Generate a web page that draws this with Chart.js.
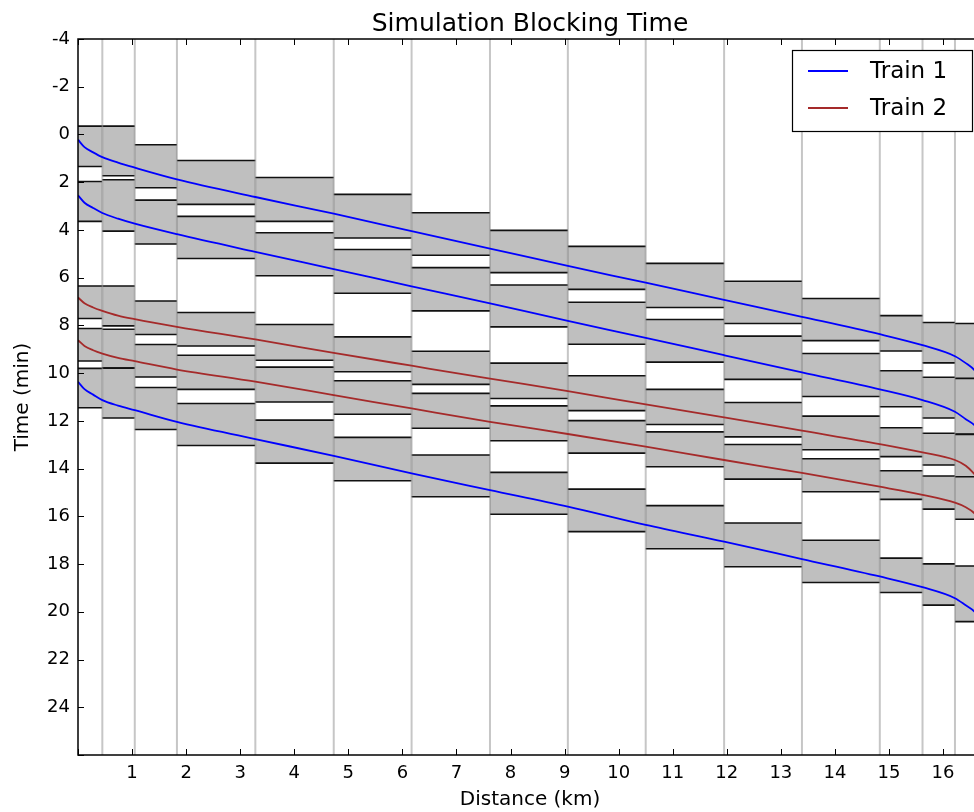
<!DOCTYPE html>
<html>
<head>
<meta charset="utf-8">
<title>Simulation Blocking Time</title>
<script src="https://cdn.jsdelivr.net/npm/chart.js@4.4.1/dist/chart.umd.min.js"></script>
<style>
  html, body { margin: 0; padding: 0; background: #fff; overflow: hidden; }
  #wrap { width: 974px; height: 812px; overflow: hidden; }
</style>
</head>
<body>
<div id="wrap">
  <canvas id="blockChart" width="992" height="812"></canvas>
</div>
<script>
// block section limits along the line (km)
const sectionKm = [0, 0.45, 1.05, 1.83, 3.28, 4.73, 6.17, 7.62, 9.06, 10.5, 11.95, 13.39, 14.83, 15.62, 16.22, 16.72];

// distance points of the running time curves (km)
const pathKm = [0, 0.12, 0.28, 0.45, 0.74, 1.05, 1.83, 3.28, 4.73, 6.17, 7.62, 9.06, 10.5, 11.95, 13.39, 14.83, 15.62, 16.22, 16.42, 16.58, 16.72];

// running times (min) for each run
const runATime = [0.22, 0.53, 0.75, 0.95, 1.18, 1.39, 1.88, 2.62, 3.32, 4.05, 4.78, 5.51, 6.21, 6.93, 7.64, 8.37, 8.83, 9.29, 9.58, 9.87, 10.3];
const runBTime = [2.55, 2.86, 3.08, 3.29, 3.53, 3.74, 4.18, 4.92, 5.64, 6.36, 7.08, 7.81, 8.52, 9.25, 9.97, 10.68, 11.13, 11.62, 11.93, 12.18, 12.62];
const runCTime = [6.83, 7.07, 7.25, 7.39, 7.59, 7.74, 8.06, 8.59, 9.15, 9.69, 10.23, 10.75, 11.31, 11.85, 12.41, 12.97, 13.32, 13.64, 13.88, 14.23, 14.62];
const runDTime = [8.62, 8.86, 9.04, 9.18, 9.36, 9.50, 9.85, 10.36, 10.92, 11.48, 12.04, 12.55, 13.08, 13.64, 14.18, 14.76, 15.10, 15.43, 15.62, 15.87, 16.25];
const runETime = [10.36, 10.67, 10.90, 11.13, 11.36, 11.55, 12.04, 12.76, 13.47, 14.20, 14.90, 15.59, 16.36, 17.06, 17.79, 18.52, 18.97, 19.43, 19.73, 19.99, 20.42];

// blocking time per section (min): start and end of occupation
const runABlockStart = [-0.35, -0.35, 0.43, 1.09, 1.80, 2.51, 3.28, 4.02, 4.69, 5.40, 6.15, 6.87, 7.59, 7.88, 7.92];
const runABlockEnd   = [1.34, 1.73, 2.23, 2.93, 3.64, 4.34, 5.06, 5.79, 6.49, 7.25, 7.92, 8.64, 9.07, 9.57, 10.25];
const runBBlockStart = [1.97, 1.90, 2.75, 3.43, 4.12, 4.82, 5.58, 6.31, 7.03, 7.75, 8.45, 9.18, 9.90, 10.17, 10.22];
const runBBlockEnd   = [3.64, 4.05, 4.59, 5.20, 5.92, 6.65, 7.39, 8.06, 8.79, 9.54, 10.26, 10.98, 11.41, 11.88, 12.55];
const runCBlockStart = [6.35, 6.35, 6.98, 7.46, 7.96, 8.48, 9.08, 9.58, 10.11, 10.68, 11.23, 11.80, 12.29, 12.52, 12.57];
const runCBlockEnd   = [7.71, 8.02, 8.38, 8.86, 9.46, 9.94, 10.47, 11.06, 11.57, 12.15, 12.67, 13.21, 13.50, 13.85, 14.35];
const runDBlockStart = [8.13, 8.16, 8.80, 9.25, 9.75, 10.32, 10.85, 11.37, 11.99, 12.46, 12.99, 13.59, 14.09, 14.31, 14.34];
const runDBlockEnd   = [9.49, 9.79, 10.16, 10.68, 11.21, 11.72, 12.31, 12.83, 13.35, 13.92, 14.44, 14.97, 15.29, 15.70, 16.12];
const runEBlockStart = [9.80, 9.79, 10.60, 11.27, 11.97, 12.69, 13.43, 14.16, 14.86, 15.55, 16.28, 17.00, 17.75, 17.99, 18.08];
const runEBlockEnd   = [11.45, 11.88, 12.36, 13.03, 13.77, 14.51, 15.18, 15.91, 16.64, 17.36, 18.11, 18.77, 19.19, 19.72, 20.41];

const trainColors = { "Train 1": "#0000ff", "Train 2": "#a52a2a" };

const runs = [
  { label: "Train 1", time: runATime, blockStart: runABlockStart, blockEnd: runABlockEnd },
  { label: "Train 1", time: runBTime, blockStart: runBBlockStart, blockEnd: runBBlockEnd },
  { label: "Train 2", time: runCTime, blockStart: runCBlockStart, blockEnd: runCBlockEnd },
  { label: "Train 2", time: runDTime, blockStart: runDBlockStart, blockEnd: runDBlockEnd },
  { label: "Train 1", time: runETime, blockStart: runEBlockStart, blockEnd: runEBlockEnd },
];

const FONT = "'DejaVu Sans', sans-serif";

// gray blocking boxes and the signal lines, under the curves
const blockPlugin = {
  id: "blocks",
  beforeDatasetsDraw(chart) {
    const { ctx, chartArea, scales: { x, y } } = chart;
    ctx.save();
    ctx.beginPath();
    ctx.rect(chartArea.left, chartArea.top, chartArea.width, chartArea.height);
    ctx.clip();

    runs.forEach(run => {
      run.blockStart.forEach((t0, i) => {
        const x0 = x.getPixelForValue(sectionKm[i]);
        const x1 = x.getPixelForValue(sectionKm[i + 1]);
        const y0 = y.getPixelForValue(t0);
        const y1 = y.getPixelForValue(run.blockEnd[i]);
        ctx.fillStyle = "#bfbfbf";
        ctx.fillRect(x0, y0, x1 - x0, y1 - y0);
        ctx.strokeStyle = "#111";
        ctx.lineWidth = 1.6;
        ctx.beginPath();
        ctx.moveTo(x0, y0); ctx.lineTo(x1, y0);
        ctx.moveTo(x0, y1); ctx.lineTo(x1, y1);
        ctx.stroke();
      });
    });

    ctx.strokeStyle = "rgba(128,128,128,0.45)";
    ctx.lineWidth = 2;
    sectionKm.slice(1, -1).forEach(km => {
      const px = x.getPixelForValue(km);
      ctx.beginPath();
      ctx.moveTo(px, chartArea.top);
      ctx.lineTo(px, chartArea.bottom);
      ctx.stroke();
    });
    ctx.restore();
  },
  afterDraw(chart) {
    const { ctx, chartArea, scales: { x, y } } = chart;
    const { left, right, top, bottom } = chartArea;
    ctx.save();

    // axes frame
    ctx.strokeStyle = "#000";
    ctx.lineWidth = 1.5;
    ctx.strokeRect(left, top, right - left, bottom - top);

    // ticks pointing inwards
    ctx.lineWidth = 1;
    x.ticks.forEach(t => {
      const px = Math.round(x.getPixelForValue(t.value)) + 0.5;
      ctx.beginPath();
      ctx.moveTo(px, bottom); ctx.lineTo(px, bottom - 6);
      ctx.moveTo(px, top); ctx.lineTo(px, top + 6);
      ctx.stroke();
    });
    y.ticks.forEach(t => {
      const py = Math.round(y.getPixelForValue(t.value)) + 0.5;
      ctx.beginPath();
      ctx.moveTo(left, py); ctx.lineTo(left + 6, py);
      ctx.moveTo(right, py); ctx.lineTo(right - 6, py);
      ctx.stroke();
    });

    // title
    ctx.fillStyle = "#000";
    ctx.font = "25px " + FONT;
    ctx.textAlign = "center";
    ctx.textBaseline = "alphabetic";
    ctx.fillText("Simulation Blocking Time", (left + right) / 2, 31);

    // legend
    const labels = [...new Set(runs.map(r => r.label))];
    const boxW = 180, boxH = 81;
    const bx = right - 10 - boxW, by = top + 11;
    ctx.fillStyle = "#fff";
    ctx.fillRect(bx, by, boxW, boxH);
    ctx.strokeStyle = "#000";
    ctx.lineWidth = 1.2;
    ctx.strokeRect(bx + 0.5, by + 0.5, boxW, boxH);
    ctx.font = "23px " + FONT;
    ctx.textAlign = "left";
    ctx.textBaseline = "middle";
    labels.forEach((label, i) => {
      const ly = by + 21 + i * 37;
      ctx.strokeStyle = trainColors[label];
      ctx.lineWidth = 1.8;
      ctx.beginPath();
      ctx.moveTo(bx + 16, ly); ctx.lineTo(bx + 56, ly);
      ctx.stroke();
      ctx.fillStyle = "#000";
      ctx.fillText(label, bx + 78, ly + 1);
    });
    ctx.restore();
  }
};

const datasets = runs.map(run => ({
  label: run.label,
  data: pathKm.map((km, i) => ({ x: km, y: run.time[i] })),
  borderColor: trainColors[run.label],
  borderWidth: 1.8,
  pointRadius: 0,
  fill: false,
  cubicInterpolationMode: "monotone",
}));

new Chart(document.getElementById("blockChart"), {
  type: "line",
  data: { datasets },
  options: {
    responsive: false,
    animation: false,
    layout: { padding: { top: 39, right: 10, left: 0, bottom: 0 } },
    plugins: {
      legend: { display: false },
      title: { display: false },
      tooltip: { enabled: false },
    },
    scales: {
      x: {
        type: "linear",
        min: 0,
        max: 16.72,
        grid: { display: false, drawTicks: false },
        border: { display: false },
        ticks: {
          stepSize: 1,
          includeBounds: false,
          padding: 8,
          color: "#000",
          font: { family: FONT, size: 18 },
          callback: v => (v === 0 ? "" : v),
        },
        title: {
          display: true,
          text: "Distance (km)",
          color: "#000",
          font: { family: FONT, size: 20 },
          padding: { top: 0, bottom: 0 },
        },
        afterFit: scale => { scale.height = 57; },
      },
      y: {
        type: "linear",
        min: -4,
        max: 26,
        reverse: true,
        grid: { display: false, drawTicks: false },
        border: { display: false },
        ticks: {
          stepSize: 2,
          includeBounds: false,
          padding: 8,
          color: "#000",
          font: { family: FONT, size: 18 },
          callback: v => (v === 26 ? "" : v),
        },
        title: {
          display: true,
          text: "Time (min)",
          color: "#000",
          font: { family: FONT, size: 20 },
          padding: { top: 11, bottom: 0 },
        },
        afterFit: scale => { scale.width = 78; },
      },
    },
  },
  plugins: [blockPlugin],
});
</script>
</body>
</html>
